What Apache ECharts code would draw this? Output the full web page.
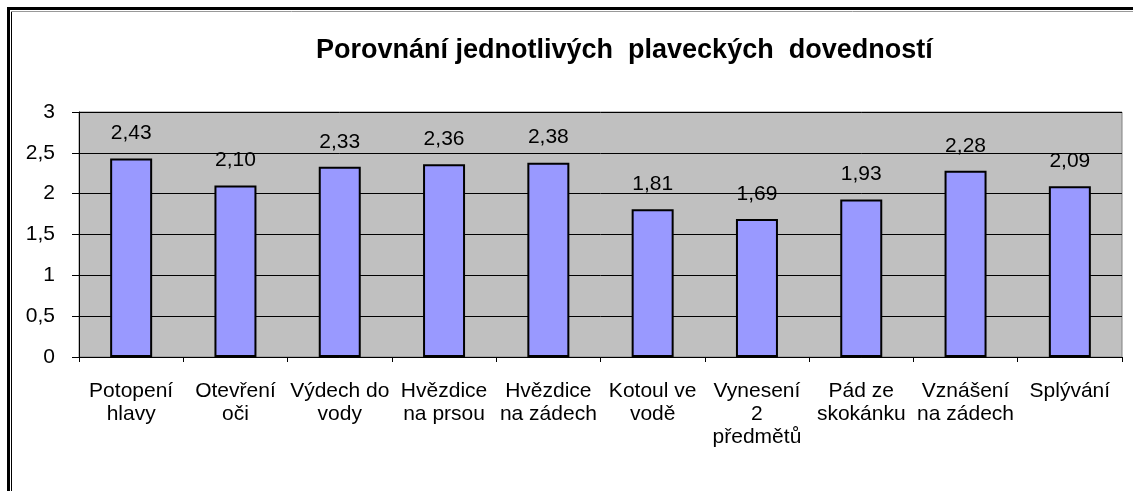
<!DOCTYPE html>
<html>
<head>
<meta charset="utf-8">
<script src="https://cdn.jsdelivr.net/npm/echarts@6/dist/echarts.min.js"></script>
<style>
  html, body { margin: 0; padding: 0; background: #fff; }
  #chart { width: 1133px; height: 491px; }
</style>
</head>
<body>
<div id="chart"></div>
<script>
const categories = [
    'Potopení\nhlavy', 'Otevření\noči', 'Výdech do\nvody', 'Hvězdice\nna prsou',
    'Hvězdice\nna zádech', 'Kotoul ve\nvodě', 'Vynesení\n2\npředmětů',
    'Pád ze\nskokánku', 'Vznášení\nna zádech', 'Splývání'
];
const values = [2.43, 2.10, 2.33, 2.36, 2.38, 1.81, 1.69, 1.93, 2.28, 2.09];
const yTicks = { min: 0, max: 3, step: 0.5 };

const FONT = '"Liberation Sans", Arial, sans-serif';
const comma = v => String(v).replace('.', ',');

const chart = echarts.init(document.getElementById('chart'));
chart.setOption({
    animation: false,
    backgroundColor: '#fff',
    textStyle: { fontFamily: FONT, color: '#000' },
    title: {
        text: 'Porovnání jednotlivých  plaveckých  dovedností',
        left: 311, top: 32,
        textStyle: { fontFamily: FONT, fontWeight: 'bold', fontSize: 27, color: '#000' }
    },
    // outer frame: thick + thin line on the left and top
    graphic: [
        { type: 'line', shape: { x1: 8.5, y1: 7, x2: 8.5, y2: 491 }, style: { stroke: '#000', lineWidth: 3 } },
        { type: 'line', shape: { x1: 7, y1: 8.5, x2: 1133, y2: 8.5 }, style: { stroke: '#000', lineWidth: 3 } },
        { type: 'line', shape: { x1: 11.5, y1: 11, x2: 11.5, y2: 491 }, style: { stroke: '#000', lineWidth: 1 } },
        { type: 'line', shape: { x1: 11, y1: 11.5, x2: 1133, y2: 11.5 }, style: { stroke: '#999', lineWidth: 1 } }
    ],
    grid: {
        left: 79, top: 112, width: 1043, height: 245,
        show: true, backgroundColor: '#C0C0C0', borderColor: '#808080', borderWidth: 1
    },
    xAxis: {
        type: 'category',
        data: categories,
        axisLine: { lineStyle: { color: '#000', width: 1 } },
        axisTick: { show: true, length: 5, lineStyle: { color: '#000' } },
        axisLabel: {
            interval: 0, margin: 23, fontSize: 21, lineHeight: 23,
            color: '#000', fontFamily: FONT, align: 'center'
        }
    },
    yAxis: {
        type: 'value',
        min: yTicks.min, max: yTicks.max, interval: yTicks.step,
        axisLine: { show: true, lineStyle: { color: '#000', width: 1 } },
        axisTick: { show: true, length: 7, lineStyle: { color: '#000' } },
        axisLabel: { formatter: comma, fontSize: 21, margin: 24, color: '#000', fontFamily: FONT },
        splitLine: { lineStyle: { color: '#000', width: 1 } }
    },
    series: [{
        type: 'bar',
        data: values,
        barWidth: 42,
        itemStyle: { color: '#9999FF', borderColor: '#000', borderWidth: 2 },
        label: {
            show: true, position: 'top', distance: 15,
            fontSize: 21, lineHeight: 20, color: '#000', fontFamily: FONT,
            formatter: p => p.value.toFixed(2).replace('.', ',')
        }
    }]
});
</script>
</body>
</html>
